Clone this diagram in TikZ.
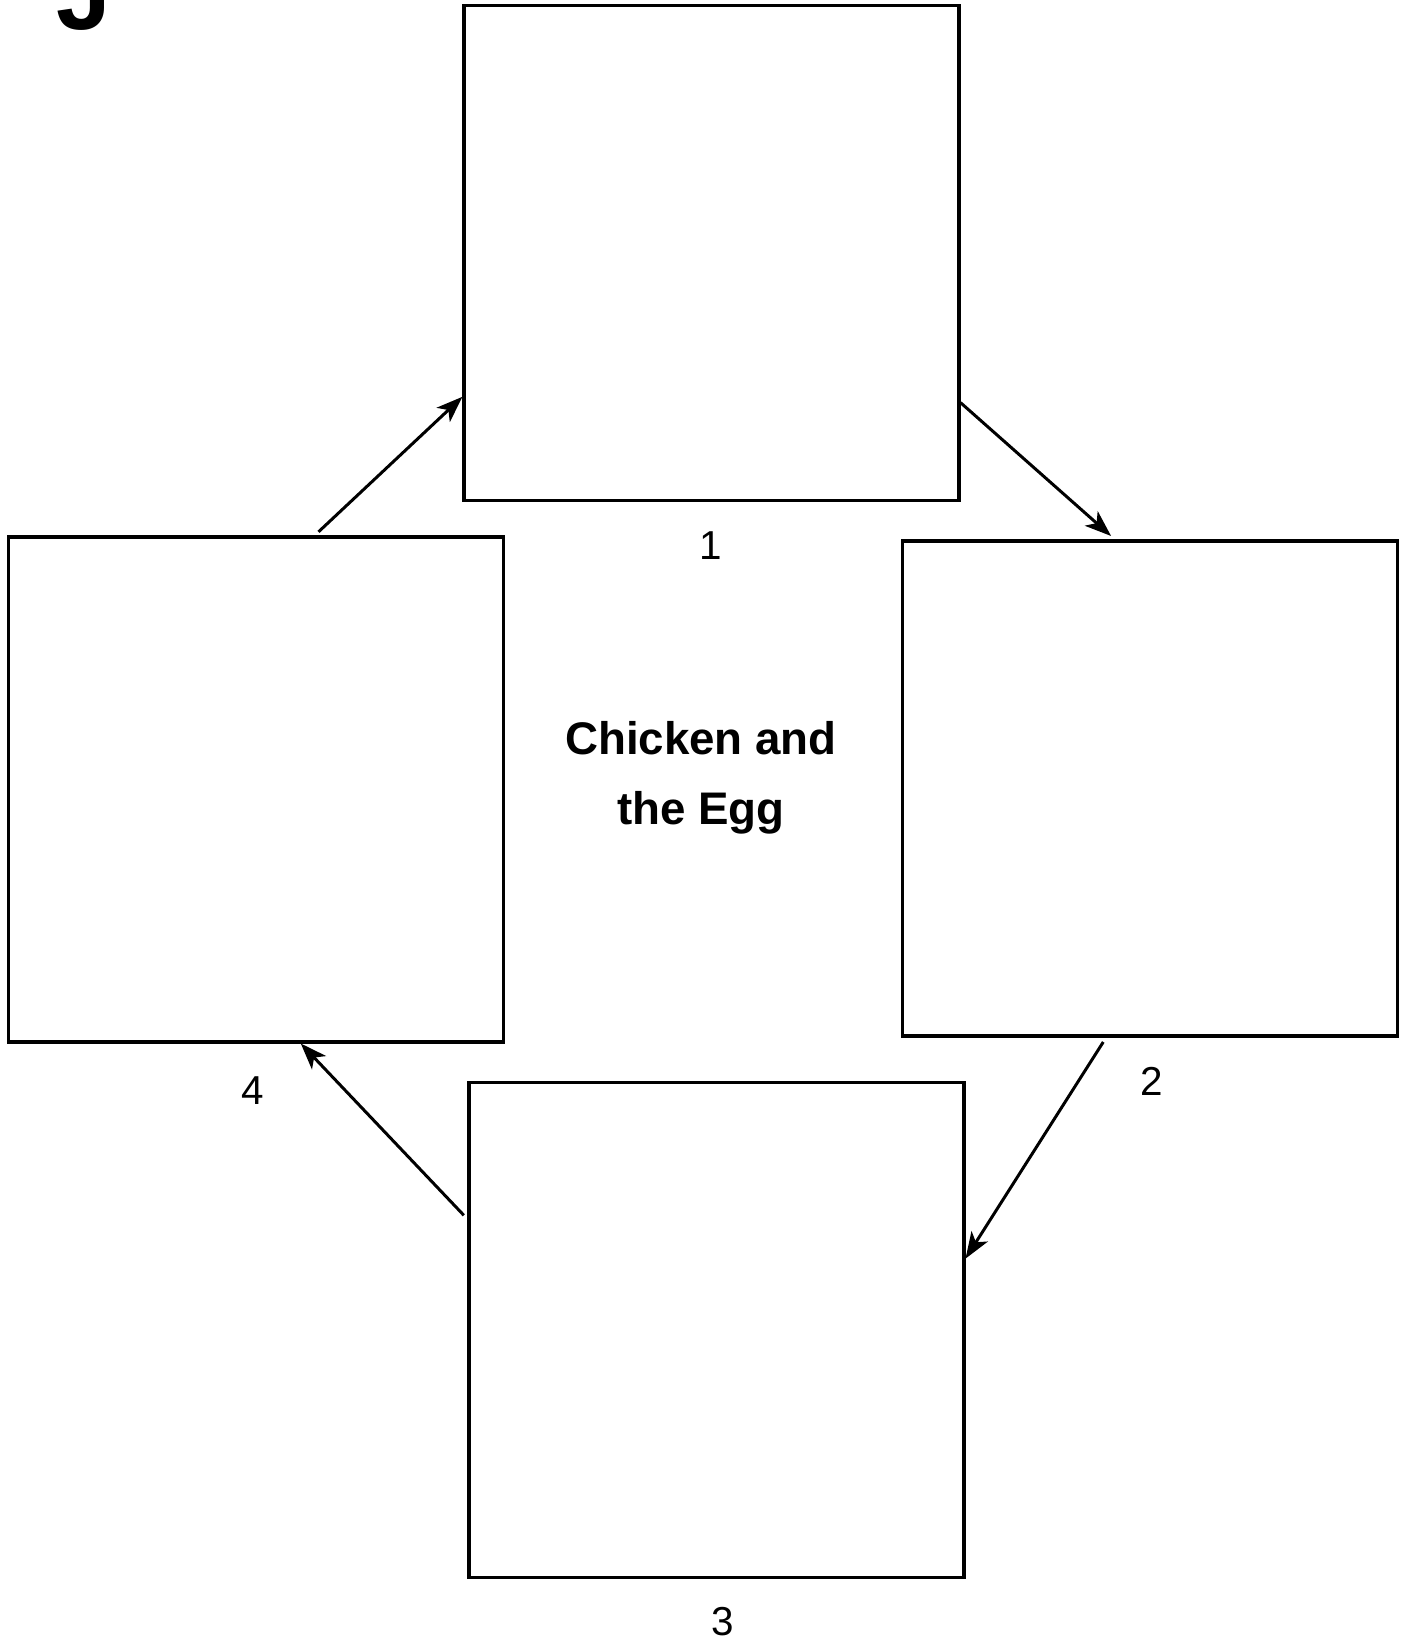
\documentclass[tikz,border=0pt]{standalone}
\usepackage{fontspec}
\setmainfont{Liberation Sans}
\usetikzlibrary{arrows.meta,positioning}

\begin{document}
\begin{tikzpicture}[x=0.02cm,y=-0.02cm,>=Stealth,
  panel/.style={draw=black,line width=1.8pt,minimum width=9.9cm,minimum height=9.9cm,inner sep=0pt},
  numlabel/.style={font=\fontsize{23}{24}\selectfont,inner sep=0pt},
  flow/.style={line width=1.7pt,-{Stealth[length=15pt,width=11pt,inset=4pt]}}]
\useasboundingbox (0,0) rectangle (1403,1645);
\node[anchor=base west,inner sep=0pt,font=\fontsize{56}{60}\selectfont\bfseries] (tab) at (56,30) {J};
\node[panel] (b1) at (711.5,253) {};
\node[panel] (b2) at (1150,788.5) {};
\node[panel] (b3) at (716.5,1330) {};
\node[panel,minimum height=10.1cm] (b4) at (256,789.5) {};
\node[numlabel] (n1) at (711,546) {1};
\node[numlabel] (n2) at (1152,1081) {2};
\node[numlabel] (n3) at (723,1622) {3};
\node[numlabel] (n4) at (253,1091) {4};
\node[align=center,inner sep=0pt,font=\fontsize{26}{39.7}\selectfont\bfseries] (title) at (701,778) {Chicken and\\the Egg};
\draw[flow,shorten <=3pt] (b4.77.9)--(b1.210.3);
\draw[flow,shorten >=3pt] (b1.329.7)--(b2.98.7);
\draw[flow,shorten <=3pt] (b2.260.4)--(b3.16.4);
\draw[flow,shorten <=3pt] (b3.156.5)--(b4.280.5);
\end{tikzpicture}
\end{document}
